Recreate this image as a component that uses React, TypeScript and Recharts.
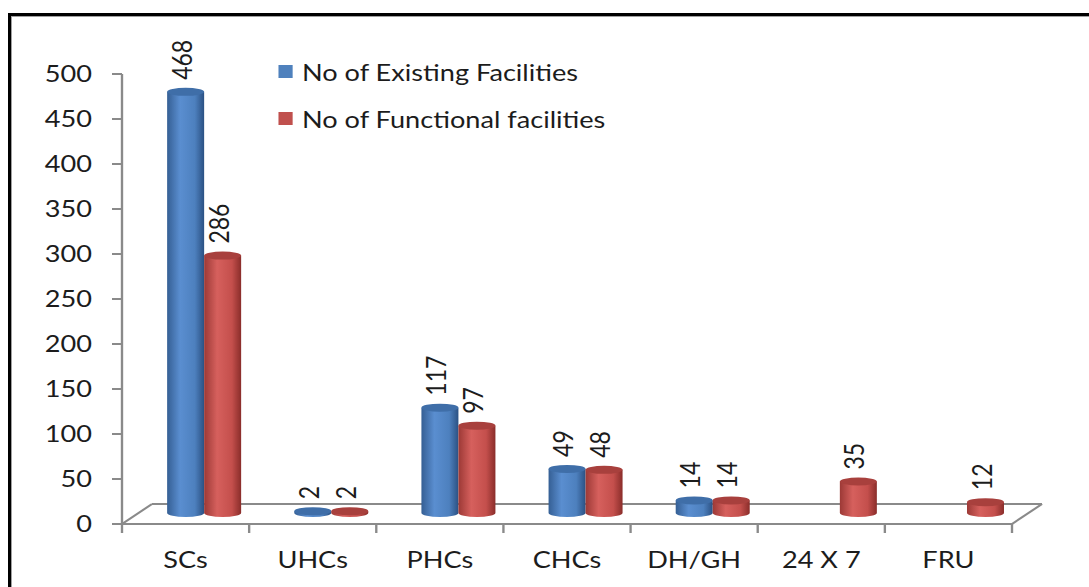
import React from "react";
import { BarChart, Bar, XAxis, YAxis, LabelList, Legend } from "recharts";

const categories = ["SCs", "UHCs", "PHCs", "CHCs", "DH/GH", "24 X 7", "FRU"];
const existingFacilities = [468, 2, 117, 49, 14, null, null];
const functionalFacilities = [286, 2, 97, 48, 14, 35, 12];
const yTicks = [0, 50, 100, 150, 200, 250, 300, 350, 400, 450, 500];
const seriesNames = ["No of Existing Facilities", "No of Functional facilities"];

const data = categories.map((name, i) => ({
  name,
  existing: existingFacilities[i],
  functional: functionalFacilities[i],
}));

// the source picture is stretched sideways, so the chart is drawn narrow and scaled
const S = 1.18;
const PAGE_W = 1089;
const PAGE_H = 587;
const W = PAGE_W / S;
const PLOT_LEFT = 122 / S;
const PLOT_RIGHT = 1012 / S;
const PLOT_TOP = 74;
const PLOT_BOTTOM = 524;
const Y_AXIS_W = 60;
const X_AXIS_H = 40;
const DEPTH_X = 30 / S;
const DEPTH_Y = 20;
const DX = 18 / S;
const DY = -11;
const RY = 4;
const FONT = "Lato, 'Open Sans', sans-serif";
const AXIS = "#8a8a8a";
const TEXT = "#1c1c1c";

const palette: Record<string, { stops: string[]; top: string; legend: string }> = {
  existing: {
    stops: ["#355f94", "#5a8ed0", "#4d80be", "#2b5183"],
    top: "#3f6ea8",
    legend: "#4f81bd",
  },
  functional: {
    stops: ["#9c3936", "#d6605d", "#c44f4c", "#8a2d2a"],
    top: "#a8403d",
    legend: "#c0504d",
  },
};

const makeCylinder = (key: string) => (props: any) => {
  const { x, y, width, height, index } = props;
  if (x == null || y == null || height == null || isNaN(y)) return null;
  const c = palette[key];
  const left = x + DX;
  const rx = width / 2;
  const yt = y + DY;
  const yb = y + height + DY;
  const id = `cyl-${key}-${index}`;
  const d = `M${left},${yt} L${left},${yb} A${rx},${RY} 0 0 0 ${left + width},${yb} L${left + width},${yt} Z`;
  return (
    <g>
      <defs>
        <linearGradient id={id} x1="0" y1="0" x2="1" y2="0">
          <stop offset="0%" stopColor={c.stops[0]} />
          <stop offset="35%" stopColor={c.stops[1]} />
          <stop offset="75%" stopColor={c.stops[2]} />
          <stop offset="100%" stopColor={c.stops[3]} />
        </linearGradient>
      </defs>
      <path d={d} fill={`url(#${id})`} />
      <ellipse cx={left + rx} cy={yt} rx={rx} ry={RY} fill={c.top} />
    </g>
  );
};

const valueLabel = (props: any) => {
  const { x, y, width, value } = props;
  if (value == null || x == null) return null;
  const cx = x + width / 2 + DX - 4;
  const ty = y + DY - RY - 8;
  return (
    <text
      x={cx}
      y={ty}
      transform={`rotate(-90 ${cx} ${ty})`}
      textAnchor="start"
      dominantBaseline="central"
      fontSize={23}
      fontFamily={FONT}
      fill={TEXT}
    >
      {value}
    </text>
  );
};

const CategoryTick = (props: any) => {
  const { x, payload } = props;
  return (
    <text x={x} y={PLOT_BOTTOM + 28} dy="0.71em" textAnchor="middle" fontSize={23} fontFamily={FONT} fill={TEXT}>
      {payload.value}
    </text>
  );
};

const LegendBox = () => (
  <div style={{ fontFamily: FONT, fontSize: 23, color: TEXT }}>
    {["existing", "functional"].map((key, i) => (
      <div key={key} style={{ display: "flex", alignItems: "center", height: 47 }}>
        <span style={{ width: 12.7, height: 13, background: palette[key].legend, marginRight: 7.6 }} />
        <span style={{ whiteSpace: "nowrap" }}>{seriesNames[i]}</span>
      </div>
    ))}
  </div>
);

const Floor = () => {
  const step = (PLOT_RIGHT - PLOT_LEFT) / categories.length;
  return (
    <svg width={W} height={PAGE_H} style={{ position: "absolute", left: 0, top: 0 }}>
      <g stroke={AXIS} strokeWidth={2} fill="none">
        <line x1={PLOT_LEFT} y1={PLOT_BOTTOM} x2={PLOT_LEFT + DEPTH_X} y2={PLOT_BOTTOM - DEPTH_Y} />
        <line x1={PLOT_LEFT + DEPTH_X} y1={PLOT_BOTTOM - DEPTH_Y} x2={PLOT_RIGHT + DEPTH_X} y2={PLOT_BOTTOM - DEPTH_Y} />
        <line x1={PLOT_RIGHT} y1={PLOT_BOTTOM} x2={PLOT_RIGHT + DEPTH_X} y2={PLOT_BOTTOM - DEPTH_Y} />
        {categories.concat([""]).map((_, i) => (
          <line key={i} x1={PLOT_LEFT + i * step} y1={PLOT_BOTTOM} x2={PLOT_LEFT + i * step} y2={PLOT_BOTTOM + 9} />
        ))}
      </g>
    </svg>
  );
};

export default function App() {
  return (
    <div style={{ position: "absolute", left: 0, top: 0, width: PAGE_W, height: PAGE_H, background: "#fff", overflow: "hidden" }}>
      <div
        style={{
          position: "absolute",
          left: 8,
          top: 13,
          width: 1200,
          height: 700,
          borderLeft: "3.5px solid #000",
          borderTop: "3.5px solid #000",
        }}
      >
        <div style={{ width: "100%", height: "100%", borderLeft: "1.5px solid #a0a0a0", borderTop: "1.5px solid #a0a0a0" }} />
      </div>
      <div style={{ position: "absolute", left: 0, top: 0, width: W, height: PAGE_H, transform: `scaleX(${S})`, transformOrigin: "0 0" }}>
        <Floor />
        <div style={{ position: "absolute", left: 0, top: 0 }}>
          <BarChart
            width={W}
            height={PAGE_H}
            data={data}
            barSize={37 / S}
            barGap={0}
            margin={{
              top: PLOT_TOP,
              right: W - PLOT_RIGHT,
              bottom: PAGE_H - PLOT_BOTTOM - X_AXIS_H,
              left: PLOT_LEFT - Y_AXIS_W,
            }}
          >
            <XAxis
              dataKey="name"
              height={X_AXIS_H}
              axisLine={{ stroke: AXIS, strokeWidth: 2 }}
              tickLine={false}
              tick={<CategoryTick />}
              interval={0}
            />
            <YAxis
              width={Y_AXIS_W}
              domain={[0, 500]}
              ticks={yTicks}
              interval={0}
              axisLine={{ stroke: AXIS, strokeWidth: 2 }}
              tickLine={{ stroke: AXIS, strokeWidth: 2 }}
              tickSize={10 / S}
              tickMargin={17}
              tick={{ fontSize: 23, fontFamily: FONT, fill: TEXT }}
            />
            <Legend
              layout="vertical"
              align="center"
              verticalAlign="middle"
              wrapperStyle={{ left: 278 / S, top: 48, width: 300 }}
              content={() => <LegendBox />}
            />
            <Bar dataKey="existing" name={seriesNames[0]} fill={palette.existing.legend} shape={makeCylinder("existing")} isAnimationActive={false}>
              <LabelList dataKey="existing" content={valueLabel} />
            </Bar>
            <Bar dataKey="functional" name={seriesNames[1]} fill={palette.functional.legend} shape={makeCylinder("functional")} isAnimationActive={false}>
              <LabelList dataKey="functional" content={valueLabel} />
            </Bar>
          </BarChart>
        </div>
      </div>
    </div>
  );
}
